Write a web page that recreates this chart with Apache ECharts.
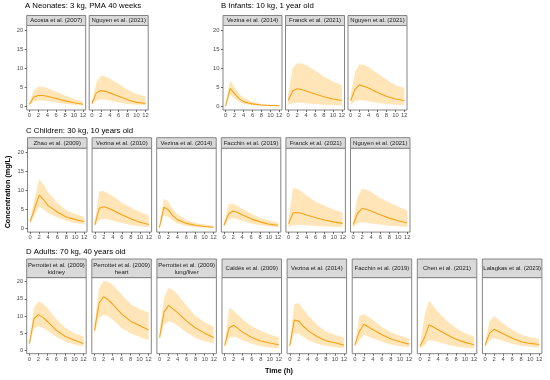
<!DOCTYPE html>
<html><head><meta charset="utf-8">
<script src="https://cdn.jsdelivr.net/npm/echarts@6/dist/echarts.min.js"></script>
<style>html,body{margin:0;padding:0;background:#fff}#c{width:550px;height:380px}</style>
</head><body><div id="c"></div>
<script>
// ---- data ----
const times = [0, 1, 2, 3, 4, 6, 8, 10, 12];
const xTicks = [0, 2, 4, 6, 8, 10, 12];
const yTicks = [0, 5, 10, 15, 20];

const rowTitles = ["A Neonates: 3 kg, PMA 40 weeks", "B Infants: 10 kg, 1 year old", "C Children: 30 kg, 10 years old", "D Adults: 70 kg, 40 years old"];

// A Neonates
const A1_name = "Acosta et al. (2007)";
const A1_med = [0.5, 2.4, 2.8, 2.8, 2.6, 2.0, 1.4, 0.9, 0.5];
const A1_lo  = [0.3, 1.3, 1.5, 1.5, 1.4, 1.0, 0.6, 0.35, 0.2];
const A1_hi  = [0.8, 4.2, 5.1, 5.1, 4.8, 3.8, 2.8, 1.9, 1.2];
const A2_name = "Nguyen et al. (2021)";
const A2_med = [0.7, 3.5, 4.1, 3.9, 3.5, 2.6, 1.7, 1.0, 0.7];
const A2_lo  = [0.3, 1.5, 1.8, 1.7, 1.5, 1.0, 0.6, 0.4, 0.3];
const A2_hi  = [1.0, 6.2, 8.0, 7.8, 7.3, 5.8, 4.3, 3.2, 2.6];
// B Infants
const B1_name = "Vezina et al. (2014)";
const B1_med = [0.1, 4.7, 3.3, 2.0, 1.2, 0.6, 0.3, 0.2, 0.1];
const B1_lo  = [0.0, 3.0, 2.0, 1.1, 0.6, 0.25, 0.1, 0.05, 0.0];
const B1_hi  = [0.2, 6.8, 5.0, 3.2, 2.2, 1.1, 0.6, 0.4, 0.3];
const B2_name = "Franck et al. (2021)";
const B2_med = [1.5, 4.0, 4.6, 4.4, 4.0, 3.2, 2.5, 1.9, 1.5];
const B2_lo  = [0.3, 0.8, 0.9, 0.9, 0.8, 0.6, 0.4, 0.3, 0.2];
const B2_hi  = [3.0, 10.0, 11.3, 11.2, 10.8, 9.4, 7.8, 6.5, 5.5];
const B3_name = "Nguyen et al. (2021)";
const B3_med = [1.5, 4.5, 5.6, 5.2, 4.8, 3.6, 2.6, 1.9, 1.5];
const B3_lo  = [0.4, 1.3, 1.6, 1.5, 1.3, 0.9, 0.6, 0.4, 0.3];
const B3_hi  = [3.0, 9.0, 11.0, 10.8, 10.3, 8.6, 7.0, 5.5, 4.8];
// C Children
const C1_name = "Zhao et al. (2009)";
const C1_med = [1.8, 5.3, 8.8, 7.5, 6.0, 4.3, 3.0, 2.3, 1.8];
const C1_lo  = [1.3, 3.5, 5.7, 5.0, 4.0, 2.9, 2.0, 1.4, 1.0];
const C1_hi  = [2.2, 8.0, 13.0, 11.5, 9.5, 6.8, 4.8, 3.7, 3.0];
const C2_name = "Vezina et al. (2010)";
const C2_med = [1.0, 5.3, 5.7, 5.3, 4.8, 3.6, 2.5, 1.6, 1.0];
const C2_lo  = [0.5, 2.2, 2.5, 2.4, 2.0, 1.4, 0.9, 0.5, 0.3];
const C2_hi  = [1.5, 9.8, 9.8, 9.2, 8.5, 6.8, 5.5, 4.3, 3.4];
const C3_name = "Vezina et al. (2014)";
const C3_med = [0.2, 5.6, 4.9, 3.3, 2.3, 1.3, 0.8, 0.5, 0.3];
const C3_lo  = [0.05, 3.5, 3.0, 2.0, 1.3, 0.6, 0.3, 0.2, 0.1];
const C3_hi  = [0.4, 7.8, 7.0, 5.0, 3.7, 2.2, 1.4, 1.0, 0.7];
const C4_name = "Facchin et al. (2019)";
const C4_med = [0.8, 3.8, 4.6, 4.2, 3.6, 2.5, 1.7, 1.1, 0.8];
const C4_lo  = [0.4, 2.2, 2.7, 2.4, 2.0, 1.3, 0.8, 0.5, 0.3];
const C4_hi  = [1.2, 6.3, 6.5, 6.0, 5.2, 3.9, 2.8, 2.0, 1.5];
const C5_name = "Franck et al. (2021)";
const C5_med = [1.2, 4.1, 4.2, 3.9, 3.5, 2.8, 2.2, 1.7, 1.3];
const C5_lo  = [0.3, 0.8, 0.9, 0.9, 0.8, 0.6, 0.5, 0.4, 0.3];
const C5_hi  = [2.5, 10.7, 10.5, 9.6, 8.6, 7.0, 6.0, 5.0, 4.1];
const C6_name = "Nguyen et al. (2021)";
const C6_med = [1.0, 4.0, 5.3, 5.0, 4.6, 3.6, 2.7, 2.0, 1.4];
const C6_lo  = [0.3, 1.3, 1.6, 1.5, 1.3, 1.0, 0.7, 0.5, 0.4];
const C6_hi  = [2.0, 8.5, 10.5, 10.2, 9.6, 8.0, 6.8, 5.7, 4.8];
// D Adults
const D1_name = "Perrottet et al. (2009)\nkidney";
const D1_med = [2.0, 9.2, 10.4, 9.6, 8.4, 5.8, 4.0, 2.9, 2.0];
const D1_lo  = [1.5, 6.3, 7.0, 6.6, 5.8, 3.9, 2.5, 1.7, 1.1];
const D1_hi  = [2.5, 12.5, 14.3, 13.6, 12.3, 9.0, 6.5, 5.0, 4.0];
const D2_name = "Perrottet et al. (2009)\nheart";
const D2_med = [5.8, 13.7, 15.6, 14.8, 13.5, 10.6, 8.5, 7.2, 5.9];
const D2_lo  = [4.5, 9.5, 10.3, 10.0, 9.0, 6.5, 5.0, 3.9, 3.0];
const D2_hi  = [7.5, 18.0, 20.2, 20.0, 19.2, 16.3, 13.5, 12.0, 11.0];
const D3_name = "Perrottet et al. (2009)\nlung/liver";
const D3_med = [3.8, 11.2, 13.1, 12.0, 11.0, 8.5, 6.5, 5.0, 3.7];
const D3_lo  = [2.8, 7.5, 8.5, 8.0, 7.2, 5.2, 3.6, 2.6, 2.0];
const D3_hi  = [4.8, 15.5, 18.2, 17.6, 16.3, 13.0, 10.0, 8.2, 6.8];
const D4_name = "Caldés et al. (2009)";
const D4_med = [1.4, 6.6, 7.3, 6.3, 5.3, 3.7, 2.7, 2.1, 1.6];
const D4_lo  = [0.8, 3.5, 4.0, 3.5, 2.9, 1.9, 1.2, 0.8, 0.6];
const D4_hi  = [2.0, 12.4, 11.5, 10.2, 9.0, 7.0, 5.7, 4.6, 3.8];
const D5_name = "Vezina et al. (2014)";
const D5_med = [1.3, 8.8, 8.5, 7.0, 5.8, 4.0, 2.8, 2.2, 1.5];
const D5_lo  = [0.8, 5.0, 4.8, 3.9, 3.1, 2.0, 1.3, 0.9, 0.6];
const D5_hi  = [1.8, 13.5, 13.8, 12.0, 10.2, 7.5, 5.5, 4.5, 3.7];
const D6_name = "Facchin et al. (2019)";
const D6_med = [1.5, 5.5, 7.6, 6.8, 6.0, 4.5, 3.3, 2.5, 1.8];
const D6_lo  = [1.0, 3.0, 4.5, 4.0, 3.5, 2.5, 1.7, 1.2, 0.9];
const D6_hi  = [2.0, 10.0, 10.5, 9.8, 8.8, 6.8, 5.2, 4.2, 3.5];
const D7_name = "Chen et al. (2021)";
const D7_med = [1.2, 3.7, 7.4, 6.8, 6.0, 4.5, 3.2, 2.3, 1.6];
const D7_lo  = [0.5, 1.5, 3.0, 2.8, 2.4, 1.7, 1.1, 0.7, 0.5];
const D7_hi  = [1.6, 10.0, 14.5, 12.8, 11.2, 8.5, 6.5, 5.0, 4.0];
const D8_name = "Lalagkas et al. (2023)";
const D8_med = [1.5, 5.0, 6.1, 5.5, 4.8, 3.5, 2.5, 2.0, 1.7];
const D8_lo  = [0.8, 3.0, 3.5, 3.2, 2.7, 1.9, 1.3, 1.0, 0.8];
const D8_hi  = [2.2, 8.5, 10.0, 8.9, 7.8, 6.0, 4.5, 3.8, 3.3];

// ---- layout ----
const FONT = "Liberation Sans, Arial, Helvetica, sans-serif";
const LINE = "#F6A313", BAND = "#FFE5B8", BORDER = "#858585", STRIP = "#D9D9D9";
const rowA = {top: 25.5, h: 84.5, sTop: 15.5, sH: 10};
const rowC = {top: 148.2, h: 83.9, sTop: 137.7, sH: 10.5};
const rowD = {top: 277.6, h: 76.1, sTop: 259, sH: 18.6};

const panels = [];
function add(row, x, w, name, med, lo, hi, yShow) {
  panels.push({x, y: row.top, w, h: row.h, sTop: row.sTop, sH: row.sH, name, med, lo, hi, yShow});
}
add(rowA, 26.7, 59, A1_name, A1_med, A1_lo, A1_hi, true);
add(rowA, 89.2, 59, A2_name, A2_med, A2_lo, A2_hi, false);
add(rowA, 223, 59, B1_name, B1_med, B1_lo, B1_hi, true);
add(rowA, 285.5, 59, B2_name, B2_med, B2_lo, B2_hi, false);
add(rowA, 348, 59, B3_name, B3_med, B3_lo, B3_hi, false);
[[C1_name, C1_med, C1_lo, C1_hi], [C2_name, C2_med, C2_lo, C2_hi], [C3_name, C3_med, C3_lo, C3_hi],
 [C4_name, C4_med, C4_lo, C4_hi], [C5_name, C5_med, C5_lo, C5_hi], [C6_name, C6_med, C6_lo, C6_hi]]
 .forEach((d, i) => add(rowC, 27.5 + i * 64.6, 59.5, d[0], d[1], d[2], d[3], i === 0));
[[D1_name, D1_med, D1_lo, D1_hi], [D2_name, D2_med, D2_lo, D2_hi], [D3_name, D3_med, D3_lo, D3_hi],
 [D4_name, D4_med, D4_lo, D4_hi], [D5_name, D5_med, D5_lo, D5_hi], [D6_name, D6_med, D6_lo, D6_hi],
 [D7_name, D7_med, D7_lo, D7_hi], [D8_name, D8_med, D8_lo, D8_hi]]
 .forEach((d, i) => add(rowD, 26.7 + i * 65.1, 59.5, d[0], d[1], d[2], d[3], i === 0));

const grids = [], xAxes = [], yAxes = [], series = [], graphics = [];
panels.forEach((p, i) => {
  grids.push({left: p.x, top: p.y, width: p.w, height: p.h, show: true, borderColor: BORDER, borderWidth: 1, backgroundColor: '#fff'});
  xAxes.push({gridIndex: i, type: 'value', min: -0.6, max: 12.6,
    axisLine: {show: false, onZero: false},
    axisTick: {show: true, length: 2, lineStyle: {color: '#444', width: 0.8}, customValues: xTicks},
    axisLabel: {customValues: xTicks, fontSize: 5.8, color: '#4d4d4d', margin: 2.5, fontFamily: FONT},
    splitLine: {show: false}});
  yAxes.push({gridIndex: i, type: 'value', min: -1.0, max: 21.2,
    axisLine: {show: false, onZero: false},
    axisTick: {show: p.yShow, length: 2, lineStyle: {color: '#444', width: 0.8}, customValues: yTicks},
    axisLabel: {show: p.yShow, customValues: yTicks, fontSize: 5.8, color: '#4d4d4d', margin: 3.5, fontFamily: FONT},
    splitLine: {show: false}});
  const lo = p.lo, hi = p.hi;
  series.push({type: 'custom', xAxisIndex: i, yAxisIndex: i, data: [[0, 0]], silent: true, z: 1,
    renderItem: function (params, api) {
      const pts = [];
      for (let k = 0; k < times.length; k++) pts.push(api.coord([times[k], hi[k]]));
      for (let k = times.length - 1; k >= 0; k--) pts.push(api.coord([times[k], lo[k]]));
      return {type: 'polygon', shape: {points: pts}, style: {fill: BAND}};
    }});
  series.push({type: 'line', xAxisIndex: i, yAxisIndex: i, data: times.map((t, k) => [t, p.med[k]]),
    symbol: 'none', showSymbol: false, silent: true, z: 3, lineStyle: {color: LINE, width: 1.1}});
  graphics.push({type: 'rect', shape: {x: p.x, y: p.sTop, width: p.w, height: p.sH},
    style: {fill: STRIP, stroke: BORDER, lineWidth: 1}, z: 10});
  graphics.push({type: 'text', x: p.x + p.w / 2, y: p.sTop + p.sH / 2 + 0.3, z: 11,
    style: {text: p.name, fill: '#1a1a1a', font: '6px ' + FONT, textAlign: 'center', textVerticalAlign: 'middle', lineHeight: 7.5}});
});

const titlePos = [[25, 6], [221, 6], [26, 130.5], [26, 252]];
rowTitles.forEach((t, i) => graphics.push({type: 'text', x: titlePos[i][0], y: titlePos[i][1], z: 11,
  style: {text: t, fill: '#000', font: '7.8px ' + FONT, textAlign: 'left', textVerticalAlign: 'middle'}}));
graphics.push({type: 'text', x: 279, y: 371.5, z: 11,
  style: {text: 'Time (h)', fill: '#000', font: 'bold 7.2px ' + FONT, textAlign: 'center', textVerticalAlign: 'middle'}});
graphics.push({type: 'text', x: 8, y: 192, rotation: Math.PI / 2, z: 11,
  style: {text: 'Concentration (mg/L)', fill: '#000', font: 'bold 7.2px ' + FONT, textAlign: 'center', textVerticalAlign: 'middle'}});

const chart = echarts.init(document.getElementById('c'), null, {renderer: 'canvas'});
chart.setOption({animation: false, backgroundColor: '#fff', grid: grids, xAxis: xAxes, yAxis: yAxes, series: series, graphic: graphics});
</script></body></html>
